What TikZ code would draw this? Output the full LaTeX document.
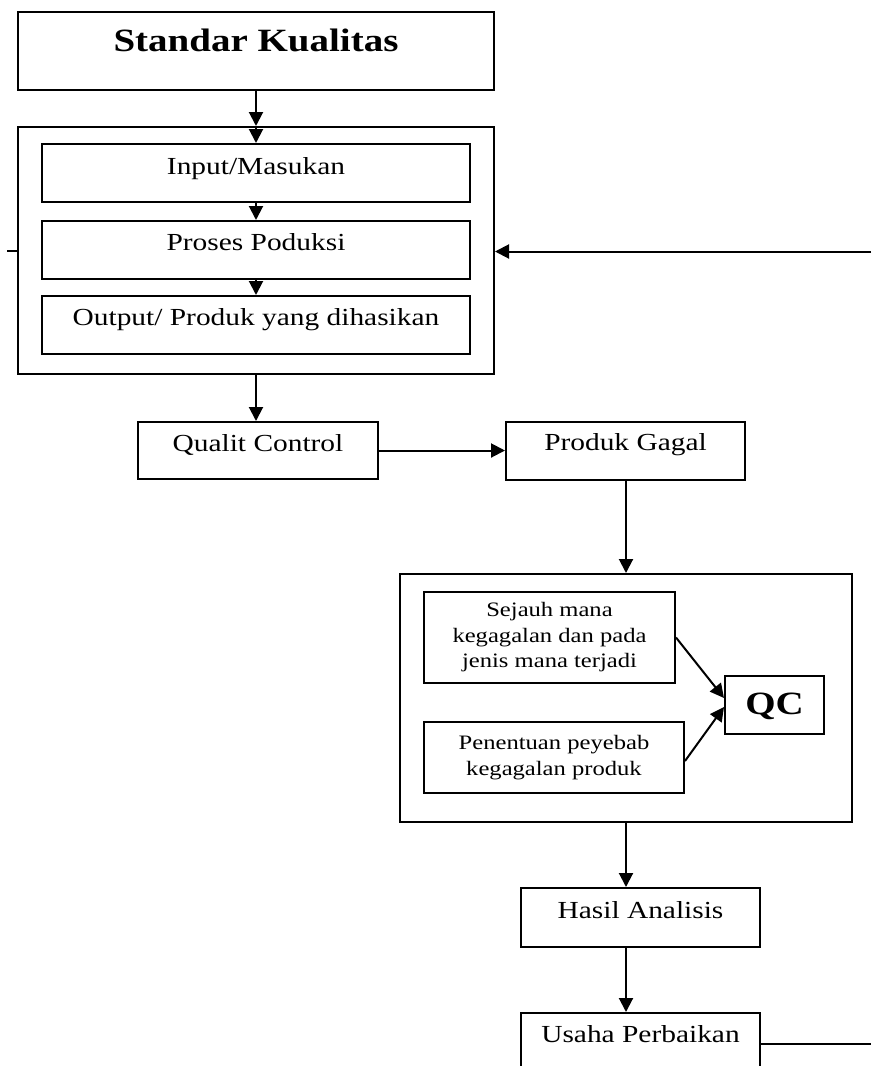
\documentclass[tikz,border=0pt]{standalone}
\usepackage{fontspec}
\setmainfont{Liberation Serif}[FakeStretch=1.2]
\usetikzlibrary{arrows.meta}
\begin{document}
\begin{tikzpicture}[x=1pt,y=-1pt,line width=2pt,
  box/.style={draw, rectangle, inner sep=0pt, anchor=north west, font=\fontsize{24.5}{29}\selectfont},
  bigbox/.style={box, font=\fontsize{32.5}{38}\selectfont\bfseries},
  smallbox/.style={box, align=center, font=\fontsize{20.5}{25.5}\selectfont},
  arr/.style={-{Triangle[length=14pt,width=14pt]}}]
\useasboundingbox (0,0) rectangle (871,1066);
\clip (0,0) rectangle (871,1066);
% top part
\node[bigbox, minimum width=476pt, minimum height=78pt, text height=39pt, text depth=39pt] (sk) at (17,11) {Standar Kualitas};
\node[box, minimum width=476pt, minimum height=247pt] (outer) at (17,126) {};
\node[box, minimum width=428pt, minimum height=58pt, text height=30pt, text depth=28pt] (in) at (41,143) {Input/Masukan};
\node[box, minimum width=428pt, minimum height=58pt, text height=29pt, text depth=29pt] (pr) at (41,220) {Proses Poduksi};
\node[box, minimum width=428pt, minimum height=58pt, text height=29pt, text depth=29pt] (out) at (41,295) {Output/ Produk yang dihasikan};
\node[box, minimum width=240pt, minimum height=57pt, text height=29pt, text depth=28pt] (qc) at (137,421) {Qualit Control};
\node[box, minimum width=239pt, minimum height=58pt, text height=28pt, text depth=30pt] (pg) at (505,421) {Produk Gagal};
% analysis box
\node[box, minimum width=452pt, minimum height=248pt] (o2) at (399,573) {};
\node[smallbox, minimum width=251pt, minimum height=91pt] (sj) at (423,591) {Sejauh mana\\kegagalan dan pada\\jenis mana terjadi};
\node[smallbox, minimum width=260pt, minimum height=71pt] (pn) at (423,721) {Penentuan peyebab\\kegagalan produk};
\node[bigbox, minimum width=99pt, minimum height=58pt, text height=38pt, text depth=20pt] (qcb) at (724,675) {QC};
\node[box, minimum width=239pt, minimum height=59pt, text height=30pt, text depth=29pt] (ha) at (520,887) {Hasil Analisis};
\node[box, minimum width=239pt, minimum height=58pt, text height=29pt, text depth=29pt] (us) at (520,1012) {Usaha Perbaikan};
% connectors
\draw[arr] (sk.south) -- (outer.north);
\draw[arr] (outer.north) -- (in.north);
\draw[arr] (in.south) -- (pr.north);
\draw[arr] (pr.south) -- (out.north);
\draw[arr] (outer.south) -- (outer.south |- qc.north);
\draw[arr] (qc.east) -- (qc.east -| pg.west);
\draw[arr] (pg.south -| o2.north) -- (o2.north);
\draw[arr] (sj.east) -- ([yshift=7pt]qcb.west);
\draw[arr] ([yshift=-3.5pt]pn.east) -- ([yshift=-2pt]qcb.west);
\draw[arr] (o2.south) -- (o2.south |- ha.north);
\draw[arr] (o2.south |- ha.south) -- (o2.south |- us.north);
% side lines
\coordinate (rin) at (871,251.5);
\draw[arr] (rin) -- (rin -| outer.east);
\coordinate (lt) at (7,251);
\draw (lt) -- (lt -| outer.west);
\coordinate (rout) at (871,1044);
\draw (rout -| us.east) -- (rout);
\end{tikzpicture}
\end{document}
